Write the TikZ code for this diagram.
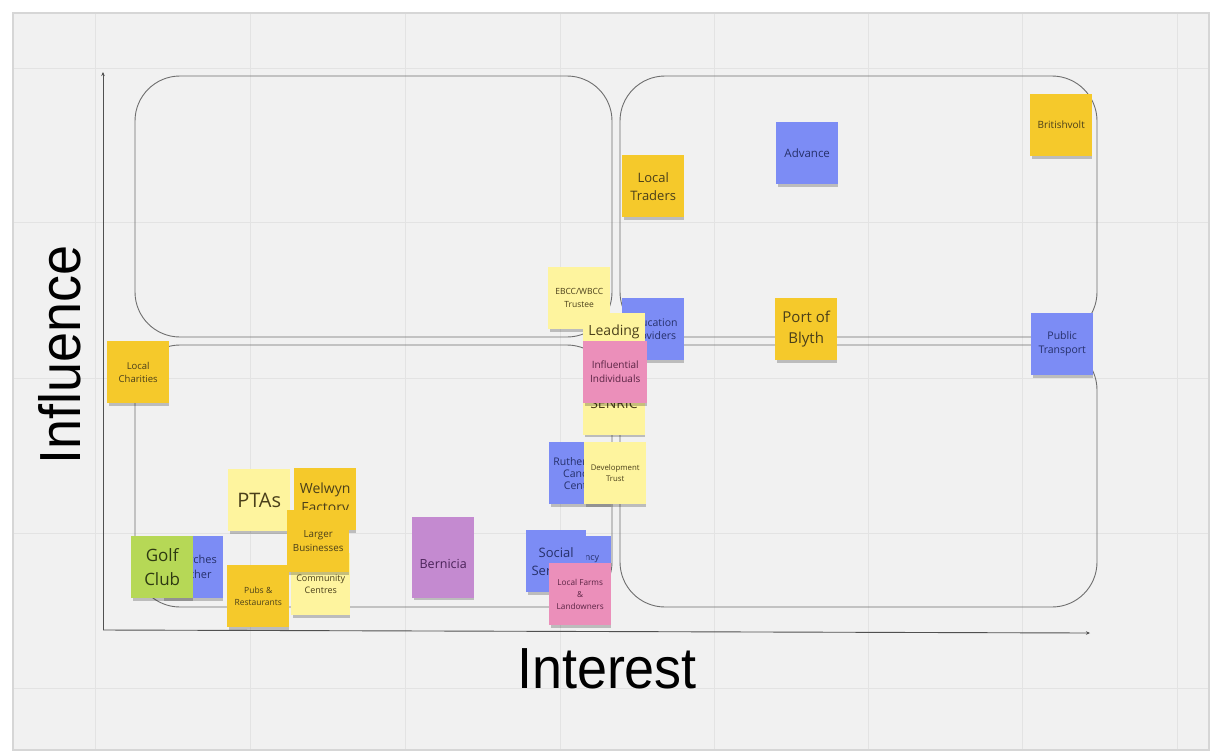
\documentclass[tikz,border=0pt]{standalone}
\usepackage{fontspec}
\setmainfont{Open Sans}
\newfontfamily\axisfont{Liberation Sans}
\usetikzlibrary{shadows,arrows.meta}
\definecolor{boardbg}{HTML}{F1F1F1}
\definecolor{boardline}{HTML}{D6D6D6}
\definecolor{gridc}{HTML}{E3E3E3}
\definecolor{quadc}{HTML}{6E6E6E}
\definecolor{axisc}{HTML}{505050}
\definecolor{gold}{HTML}{F5C92B}
\definecolor{lyellow}{HTML}{FEF49E}
\definecolor{sblue}{HTML}{7C8CF5}
\definecolor{spink}{HTML}{EB8FBA}
\definecolor{spurple}{HTML}{C48AD0}
\definecolor{sgreen}{HTML}{B6D856}
\definecolor{tgold}{HTML}{4A3F1A}
\definecolor{tblue}{HTML}{26306A}
\definecolor{tpink}{HTML}{5A2444}
\definecolor{tpurple}{HTML}{4A2258}
\definecolor{tgreen}{HTML}{2E3A12}
\begin{document}
\begin{tikzpicture}[x=1pt,y=-1pt,
  sticky/.style={anchor=north west, minimum width=62pt, minimum height=62pt,
    inner sep=1pt, align=center,
    drop shadow={shadow xshift=0.5pt, shadow yshift=-3.5pt, opacity=0.22, fill=black, shadow scale=0.97}},
  goldnote/.style={sticky, fill=gold, text=tgold},
  lynote/.style={sticky, fill=lyellow, text=tgold},
  bluenote/.style={sticky, fill=sblue, text=tblue},
  pinknote/.style={sticky, fill=spink, text=tpink},
  purplenote/.style={sticky, fill=spurple, text=tpurple},
  greennote/.style={sticky, fill=sgreen, text=tgreen},
  quad/.style={draw=quadc, line width=0.9pt, rounded corners=45pt},
  axis/.style={draw=axisc, line width=0.9pt, -{Stealth[length=4pt,width=3.5pt]}},
  grid line/.style={draw=gridc, line width=0.8pt}]
\useasboundingbox (0,0) rectangle (1220,753);
\fill[white] (0,0) rectangle (1220,753);
% board
\path[fill=boardbg, draw=boardline, line width=1.5pt] (13,13) rectangle (1209,750);
\begin{scope}
\clip (14,14) rectangle (1208,749);
\foreach \gx in {95,250,405,560,714,868,1022,1177} \draw[grid line] (\gx,14) -- (\gx,749);
\foreach \gy in {68,222,378,533,688} \draw[grid line] (14,\gy) -- (1208,\gy);
\end{scope}
% quadrants
\draw[quad] (135,76) rectangle (612,337);
\draw[quad] (620,76) rectangle (1097,337);
\draw[quad] (135,345) rectangle (612,607);
\draw[quad] (620,345) rectangle (1097,607);
% axes
\coordinate (origin) at (103,630);
\coordinate (ytop) at (103,72);
\coordinate (xend) at (1090,633);
\draw[axis] (origin) -- (ytop);
\draw[axis] (origin) -- (xend);
\node[font=\axisfont\fontsize{58}{60}\selectfont, rotate=90, anchor=base, text=black] (influence) at (80,355) {\scalebox{0.93}[1]{Influence}};
\node[font=\axisfont\fontsize{58}{60}\selectfont, anchor=base, text=black] (interest) at (607,688) {\scalebox{0.93}[1]{Interest}};
% stickies
\node[goldnote, font=\fontsize{9.5}{13}\selectfont] (charities) at (107,341) {Local\\Charities};
\node[goldnote, font=\fontsize{13}{18}\selectfont] (traders) at (622,155) {Local\\Traders};
\node[bluenote, font=\fontsize{11.5}{14}\selectfont] (advance) at (776,122) {Advance};
\node[goldnote, font=\fontsize{10}{13}\selectfont] (britishvolt) at (1030,94) {Britishvolt};
\node[bluenote, font=\fontsize{10.5}{14}\selectfont] (ptransport) at (1031,313) {Public\\Transport};
\node[goldnote, font=\fontsize{15}{21}\selectfont] (port) at (775,298) {Port of\\Blyth};
\node[lynote, font=\fontsize{8.5}{12.5}\selectfont] (ebcc) at (548,267) {EBCC/WBCC\\Trustee};
\node[bluenote, font=\fontsize{10.5}{13}\selectfont] (edu) at (622,298) {Education\\Providers};
\node[lynote, minimum height=122pt] (leading) at (583,313) {};
\node[font=\fontsize{14}{17}\selectfont, text=tgold] (leadingtext) at (614,332) {Leading};
\node[font=\fontsize{14}{17}\selectfont, text=tgold] (senrictext) at (614,403) {SENRIC};
\node[pinknote, minimum width=64pt, font=\fontsize{10}{14}\selectfont] (influential) at (583,341) {Influential\\Individuals};
\node[bluenote, font=\fontsize{10.5}{12}\selectfont] (rutherford) at (549,442) {Rutherford\\Cancer\\Centre};
\node[lynote, font=\fontsize{7.8}{11.5}\selectfont] (devtrust) at (584,442) {Development\\Trust};
\node[lynote, font=\fontsize{20}{24}\selectfont] (ptas) at (228,469) {PTAs};
\node[goldnote, font=\fontsize{14}{19}\selectfont] (welwyn) at (294,468) {Welwyn\\Factory};
\node[lynote, minimum width=59pt, font=\fontsize{9}{12.5}\selectfont] (community) at (291,553) {Community\\Centres};
\node[goldnote, font=\fontsize{9.8}{14}\selectfont] (larger) at (287,510) {Larger\\Businesses};
\node[goldnote, font=\fontsize{8.5}{11.5}\selectfont] (pubs) at (227,565) {Pubs \&\\Restaurants};
\node[bluenote, minimum width=61pt, font=\fontsize{11}{15}\selectfont] (churches) at (162,536) {Churches\\\&\,other};
\node[greennote, font=\fontsize{17}{24}\selectfont] (golf) at (131,536) {Golf\\Club};
\node[purplenote, minimum height=81pt] (bernicia) at (412,517) {};
\node[font=\fontsize{12.5}{15}\selectfont, text=tpurple] (berniciatext) at ([yshift=-6pt]bernicia.center) {Bernicia};
\node[bluenote] (agency) at (549,536) {};
\node[font=\fontsize{9}{12}\selectfont, text=tblue] (agencytext) at ([xshift=4pt,yshift=9pt]agency.center) {Agency};
\node[bluenote, minimum width=60pt, font=\fontsize{13}{18}\selectfont] (social) at (526,530) {Social\\Services};
\node[pinknote, font=\fontsize{8.2}{12}\selectfont] (farms) at (549,563) {Local Farms\\\&\\Landowners};
\end{tikzpicture}
\end{document}
